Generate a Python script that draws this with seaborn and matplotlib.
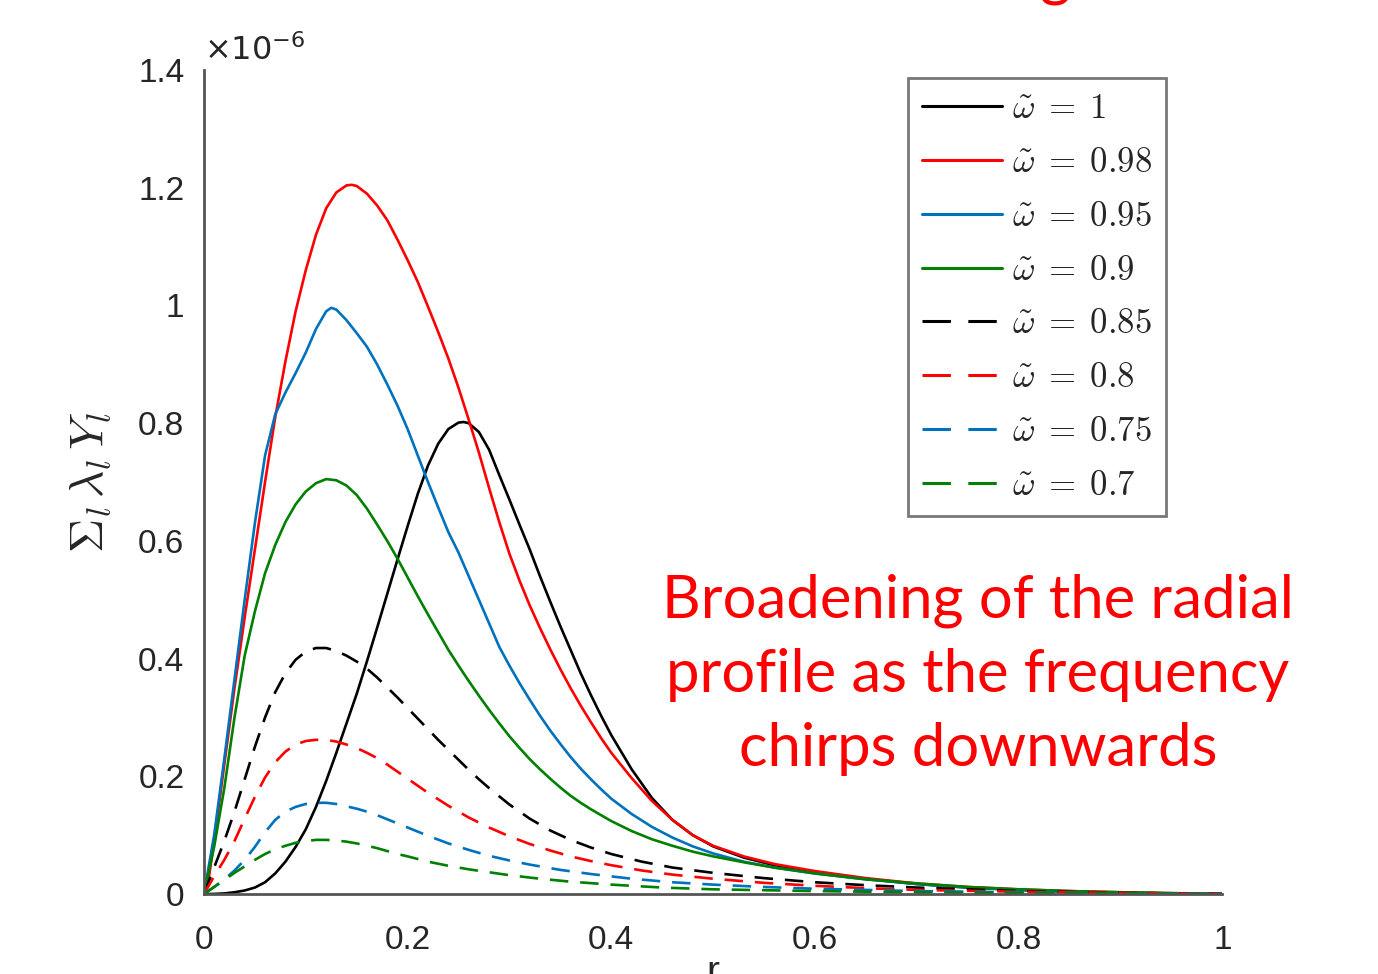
import matplotlib
matplotlib.use("Agg")
import matplotlib.pyplot as plt
import seaborn as sns
import pandas as pd

sns.set_theme(style="white")
plt.rcParams['font.family'] = ['Liberation Sans', 'DejaVu Sans']
plt.rcParams['mathtext.fontset'] = 'cm'

# ---- data (values in units of 1e-6) ----
labels = [r'$\tilde{\omega}\;=\;1$', r'$\tilde{\omega}\;=\;0.98$', r'$\tilde{\omega}\;=\;0.95$',
          r'$\tilde{\omega}\;=\;0.9$', r'$\tilde{\omega}\;=\;0.85$', r'$\tilde{\omega}\;=\;0.8$',
          r'$\tilde{\omega}\;=\;0.75$', r'$\tilde{\omega}\;=\;0.7$']

r_w100 = [0, 0.01, 0.02, 0.03, 0.04, 0.05, 0.06, 0.07, 0.08, 0.09, 0.1, 0.11, 0.12, 0.13, 0.14, 0.15,
          0.16, 0.17, 0.18, 0.19, 0.2, 0.21, 0.22, 0.23, 0.24, 0.25, 0.255, 0.26, 0.27, 0.28, 0.29, 0.3,
          0.31, 0.32, 0.33, 0.34, 0.35, 0.36, 0.37, 0.38, 0.39, 0.4, 0.42, 0.44, 0.46, 0.48, 0.5, 0.53,
          0.56, 0.6, 0.65, 0.7, 0.75, 0.8, 0.85, 0.9, 1.0]
v_w100 = [0, 0.0002, 0.001, 0.003, 0.006, 0.011, 0.02, 0.035, 0.055, 0.08, 0.11, 0.148, 0.192, 0.24,
          0.29, 0.34, 0.395, 0.452, 0.51, 0.568, 0.625, 0.68, 0.728, 0.765, 0.79, 0.801, 0.802, 0.8,
          0.785, 0.755, 0.712, 0.67, 0.627, 0.585, 0.54, 0.497, 0.455, 0.415, 0.375, 0.338, 0.303, 0.27,
          0.212, 0.163, 0.126, 0.1, 0.081, 0.062, 0.049, 0.037, 0.026, 0.017, 0.011, 0.007, 0.004,
          0.002, 0]

r_w098 = [0, 0.005, 0.01, 0.02, 0.03, 0.04, 0.05, 0.06, 0.07, 0.08, 0.09, 0.1, 0.11, 0.12, 0.13, 0.14,
          0.145, 0.15, 0.16, 0.17, 0.18, 0.19, 0.2, 0.21, 0.22, 0.23, 0.24, 0.25, 0.26, 0.27, 0.28, 0.29,
          0.3, 0.31, 0.32, 0.33, 0.34, 0.35, 0.36, 0.37, 0.38, 0.39, 0.4, 0.42, 0.44, 0.46, 0.48, 0.5,
          0.53, 0.56, 0.6, 0.65, 0.7, 0.75, 0.8, 0.85, 0.9, 1.0]
v_w098 = [0, 0.03, 0.09, 0.22, 0.35, 0.47, 0.585, 0.70, 0.81, 0.905, 0.99, 1.06, 1.12, 1.165, 1.192,
          1.204, 1.205, 1.203, 1.19, 1.17, 1.145, 1.112, 1.077, 1.04, 0.998, 0.955, 0.91, 0.86, 0.806,
          0.75, 0.69, 0.632, 0.578, 0.532, 0.49, 0.452, 0.416, 0.382, 0.35, 0.32, 0.292, 0.265, 0.24,
          0.197, 0.158, 0.126, 0.1, 0.082, 0.064, 0.051, 0.039, 0.027, 0.018, 0.012, 0.008, 0.005,
          0.003, 0]

r_w095 = [0, 0.01, 0.02, 0.03, 0.04, 0.05, 0.06, 0.07, 0.08, 0.09, 0.1, 0.11, 0.12, 0.125, 0.13, 0.14,
          0.15, 0.16, 0.17, 0.18, 0.19, 0.2, 0.21, 0.22, 0.23, 0.24, 0.25, 0.26, 0.27, 0.28, 0.29, 0.3,
          0.31, 0.32, 0.33, 0.34, 0.35, 0.36, 0.37, 0.38, 0.39, 0.4, 0.42, 0.44, 0.46, 0.48, 0.5, 0.53,
          0.56, 0.6, 0.65, 0.7, 0.75, 0.8, 0.85, 0.9, 1.0]
v_w095 = [0, 0.1, 0.23, 0.365, 0.5, 0.63, 0.745, 0.815, 0.852, 0.885, 0.92, 0.96, 0.99, 0.996, 0.993,
          0.975, 0.953, 0.93, 0.9, 0.866, 0.83, 0.79, 0.745, 0.7, 0.657, 0.615, 0.58, 0.54, 0.5, 0.46,
          0.42, 0.388, 0.358, 0.33, 0.303, 0.278, 0.255, 0.233, 0.213, 0.195, 0.178, 0.162, 0.136,
          0.114, 0.096, 0.081, 0.069, 0.055, 0.045, 0.035, 0.025, 0.017, 0.011, 0.007, 0.004, 0.002, 0]

r_w090 = [0, 0.01, 0.02, 0.03, 0.04, 0.05, 0.06, 0.07, 0.08, 0.09, 0.1, 0.11, 0.12, 0.13, 0.14, 0.15,
          0.16, 0.17, 0.18, 0.19, 0.2, 0.21, 0.22, 0.23, 0.24, 0.25, 0.26, 0.27, 0.28, 0.29, 0.3, 0.31,
          0.32, 0.33, 0.34, 0.35, 0.36, 0.37, 0.38, 0.39, 0.4, 0.42, 0.44, 0.46, 0.48, 0.5, 0.53, 0.56,
          0.6, 0.65, 0.7, 0.75, 0.8, 0.85, 0.9, 1.0]
v_w090 = [0, 0.08, 0.18, 0.3, 0.405, 0.48, 0.545, 0.593, 0.632, 0.662, 0.684, 0.698, 0.705, 0.703,
          0.694, 0.678, 0.655, 0.628, 0.6, 0.57, 0.538, 0.506, 0.475, 0.445, 0.415, 0.388, 0.362, 0.337,
          0.313, 0.29, 0.268, 0.248, 0.229, 0.212, 0.196, 0.181, 0.167, 0.155, 0.144, 0.134, 0.124,
          0.107, 0.093, 0.082, 0.072, 0.064, 0.054, 0.045, 0.035, 0.025, 0.018, 0.012, 0.008, 0.005,
          0.003, 0]

r_w085 = [0, 0.01, 0.02, 0.03, 0.04, 0.05, 0.06, 0.07, 0.08, 0.09, 0.1, 0.11, 0.12, 0.13, 0.14, 0.15,
          0.16, 0.17, 0.18, 0.19, 0.2, 0.21, 0.22, 0.23, 0.24, 0.25, 0.26, 0.27, 0.28, 0.29, 0.3, 0.32,
          0.34, 0.36, 0.38, 0.4, 0.43, 0.46, 0.5, 0.55, 0.6, 0.65, 0.7, 0.75, 0.8, 0.9, 1.0]
v_w085 = [0, 0.045, 0.09, 0.14, 0.195, 0.25, 0.3, 0.343, 0.375, 0.398, 0.412, 0.418, 0.418, 0.413,
          0.405, 0.395, 0.383, 0.368, 0.351, 0.334, 0.316, 0.298, 0.28, 0.262, 0.245, 0.228, 0.211,
          0.195, 0.18, 0.166, 0.152, 0.128, 0.108, 0.092, 0.079, 0.068, 0.055, 0.045, 0.036, 0.027,
          0.02, 0.015, 0.011, 0.008, 0.005, 0.002, 0]

r_w080 = [0, 0.01, 0.02, 0.03, 0.04, 0.05, 0.06, 0.07, 0.08, 0.09, 0.1, 0.11, 0.12, 0.13, 0.14, 0.15,
          0.16, 0.17, 0.18, 0.19, 0.2, 0.22, 0.24, 0.26, 0.28, 0.3, 0.32, 0.34, 0.36, 0.38, 0.4, 0.43,
          0.46, 0.5, 0.55, 0.6, 0.65, 0.7, 0.8, 0.9, 1.0]
v_w080 = [0, 0.03, 0.058, 0.09, 0.128, 0.165, 0.198, 0.224, 0.242, 0.254, 0.26, 0.262, 0.262, 0.259,
          0.254, 0.248, 0.24, 0.231, 0.22, 0.208, 0.196, 0.172, 0.15, 0.13, 0.113, 0.098, 0.085, 0.074,
          0.064, 0.056, 0.049, 0.04, 0.033, 0.026, 0.019, 0.014, 0.01, 0.007, 0.004, 0.002, 0]

r_w075 = [0, 0.01, 0.02, 0.03, 0.04, 0.05, 0.06, 0.07, 0.08, 0.09, 0.1, 0.11, 0.12, 0.13, 0.14, 0.15,
          0.16, 0.17, 0.18, 0.19, 0.2, 0.22, 0.24, 0.26, 0.28, 0.3, 0.32, 0.35, 0.38, 0.42, 0.46, 0.5,
          0.55, 0.6, 0.7, 0.8, 0.9, 1.0]
v_w075 = [0, 0.012, 0.025, 0.04, 0.058, 0.08, 0.105, 0.126, 0.14, 0.148, 0.153, 0.155, 0.155, 0.153,
          0.149, 0.145, 0.14, 0.134, 0.127, 0.12, 0.113, 0.099, 0.086, 0.075, 0.065, 0.057, 0.05,
          0.041, 0.034, 0.026, 0.02, 0.016, 0.012, 0.009, 0.005, 0.003, 0.001, 0]

r_w070 = [0, 0.01, 0.02, 0.03, 0.04, 0.05, 0.06, 0.07, 0.08, 0.09, 0.1, 0.11, 0.12, 0.13, 0.14, 0.15,
          0.16, 0.17, 0.18, 0.19, 0.2, 0.22, 0.24, 0.26, 0.28, 0.3, 0.33, 0.36, 0.4, 0.45, 0.5, 0.6,
          0.7, 0.8, 0.9, 1.0]
v_w070 = [0, 0.012, 0.024, 0.036, 0.047, 0.058, 0.068, 0.076, 0.082, 0.087, 0.09, 0.092, 0.092, 0.091,
          0.089, 0.086, 0.082, 0.078, 0.073, 0.068, 0.064, 0.055, 0.048, 0.042, 0.037, 0.032, 0.026,
          0.021, 0.016, 0.011, 0.008, 0.005, 0.003, 0.002, 0.001, 0]

x_ticks = [0, 0.2, 0.4, 0.6, 0.8, 1]
x_ticklabels = ['0', '0.2', '0.4', '0.6', '0.8', '1']
y_ticks = [0, 0.2, 0.4, 0.6, 0.8, 1.0, 1.2, 1.4]
y_ticklabels = ['0', '0.2', '0.4', '0.6', '0.8', '1', '1.2', '1.4']

series = [(r_w100, v_w100), (r_w098, v_w098), (r_w095, v_w095), (r_w090, v_w090),
          (r_w085, v_w085), (r_w080, v_w080), (r_w075, v_w075), (r_w070, v_w070)]

colors = ['#000000', '#ff0000', '#0072bd', '#008000', '#000000', '#ff0000', '#0072bd', '#008000']
dashed = [False, False, False, False, True, True, True, True]

fig = plt.figure(figsize=(13.78, 9.74), dpi=100)
ax = fig.add_axes([0.148, 0.0821, 0.739, 0.846])

for (rr, vv), lab, col, dsh in zip(series, labels, colors, dashed):
    df = pd.DataFrame({'r': rr, 'v': vv})
    sns.lineplot(data=df, x='r', y='v', ax=ax, color=col, linewidth=1.9, label=lab,
                 linestyle='--' if dsh else '-',
                 dashes=False, sort=False, estimator=None)
    ln = ax.lines[-1]
    ln.set_solid_joinstyle('round')
    if dsh:
        ln.set_dashes((7, 4.5))

ax.set_xlim(0, 1)
ax.set_ylim(0, 1.4)
ax.set_xticks(x_ticks)
ax.set_xticklabels(x_ticklabels)
ax.set_yticks(y_ticks)
ax.set_yticklabels(y_ticklabels)
ax.tick_params(axis='both', direction='in', length=9, width=1.5, color='#555555',
               labelsize=24, labelcolor='#262626')
ax.tick_params(axis='x', pad=22)
ax.tick_params(axis='y', pad=14)
for s in ['top', 'right']:
    ax.spines[s].set_visible(False)
for s in ['left', 'bottom']:
    ax.spines[s].set_color('#555555')
    ax.spines[s].set_linewidth(2)
ax.grid(False)

ax.set_xlabel('')
ax.set_ylabel(r'$\Sigma_l\,\lambda_l\,Y_l$', fontsize=34, color='#262626', labelpad=18)
fig.text(713 / 1378, 1 - 955 / 974, 'r', fontsize=28, color='#262626',
         ha='center', va='top')

ax.text(0.0, 1.004, r'$\times10^{-6}$', transform=ax.transAxes, fontsize=23,
        color='#262626', ha='left', va='bottom',
        math_fontfamily='dejavusans')

leg = ax.legend(loc='upper right', bbox_to_anchor=(0.945, 0.99), fontsize=25,
                handlelength=2.3, labelspacing=0.6, handletextpad=0.3,
                borderpad=0.4, frameon=True, fancybox=False, borderaxespad=0)
leg.get_frame().set_edgecolor('#555555')
leg.get_frame().set_linewidth(2)
for h, dsh in zip(leg.get_lines(), dashed):
    h.set_linewidth(2.2)
    if dsh:
        h.set_dashes((9.3, 5.7))

fig.text(978 / 1378, 1 - 675 / 974,
         'Broadening of the radial\nprofile as the frequency\nchirps downwards',
         color='#ff0000', fontsize=43, family=['Lato', 'DejaVu Sans'],
         ha='center', va='center', linespacing=1.45)

fig.text(1055 / 1378, 1 + 6 / 974, 'g', color='#ff0000', fontsize=43,
         family=['Lato', 'DejaVu Sans'], ha='center', va='baseline')

fig.savefig('out.png', dpi=100)
